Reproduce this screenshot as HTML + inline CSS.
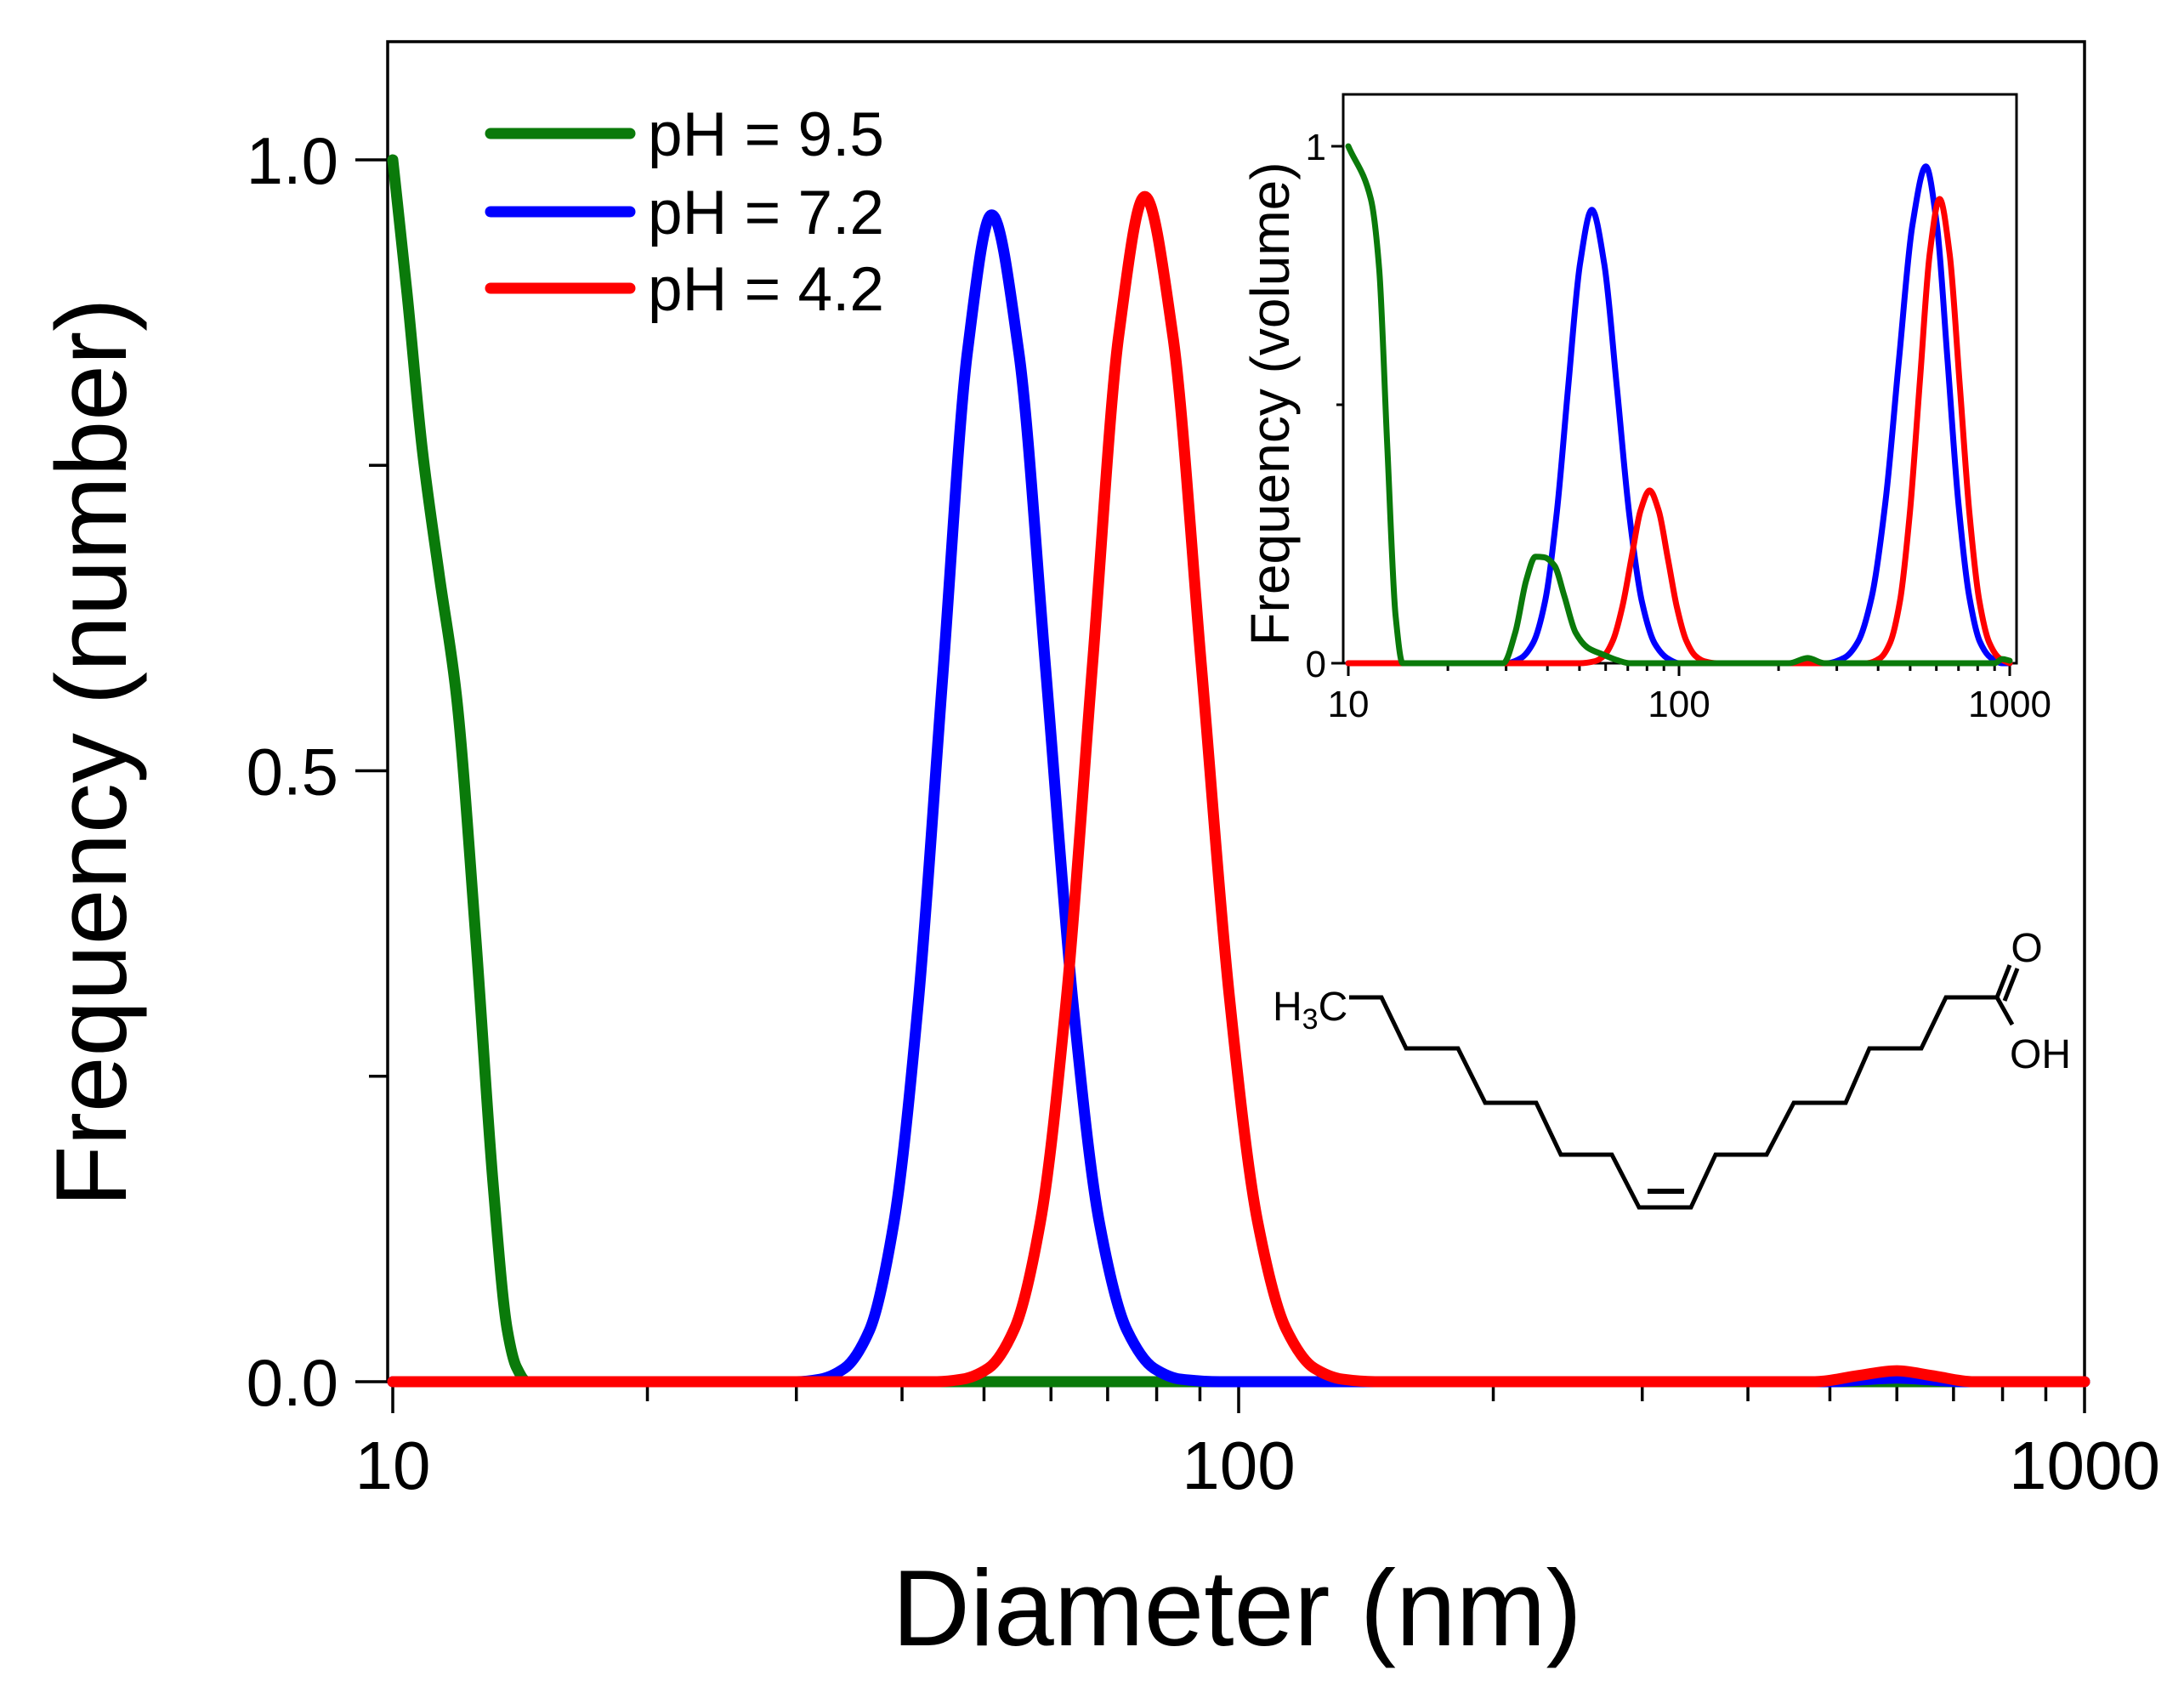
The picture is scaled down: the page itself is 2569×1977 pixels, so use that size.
<!DOCTYPE html>
<html><head><meta charset="utf-8"><style>
html,body{margin:0;padding:0;background:#fff;}
svg{display:block;font-family:"Liberation Sans",Arial,sans-serif;}
</style></head><body>
<svg id="chart" width="2569" height="1977" viewBox="0 0 2569 1977" xmlns="http://www.w3.org/2000/svg">
<rect x="0" y="0" width="2569" height="1977" fill="#fff"/>
<g id="main-axes"></g>
<g id="main-series"></g>
<g id="inset"></g>
<g id="legend">
  <line x1="577" y1="157" x2="741" y2="157" stroke="#0a7a0a" stroke-width="13" stroke-linecap="round"/>
  <line x1="577" y1="249" x2="741" y2="249" stroke="#0000ff" stroke-width="13" stroke-linecap="round"/>
  <line x1="577" y1="339" x2="741" y2="339" stroke="#ff0000" stroke-width="13" stroke-linecap="round"/>
  <text x="762" y="183" font-size="73">pH = 9.5</text>
  <text x="762" y="275" font-size="73">pH = 7.2</text>
  <text x="762" y="365" font-size="73">pH = 4.2</text>
</g>
<g id="molecule" fill="none" stroke="#000" stroke-width="5">
  <polyline points="1587,1173 1625,1173 1654,1233 1715,1233 1747,1297 1807,1297 1836,1358 1896,1358 1928,1420 1989,1420 2018,1358 2078,1358 2110,1297 2171,1297 2199,1233 2260,1233 2289,1173 2349,1173"/>
  <line x1="1938" y1="1401" x2="1981" y2="1401" stroke-width="6"/>
  <line x1="2349" y1="1173" x2="2364" y2="1135"/>
  <line x1="2358" y1="1177" x2="2373" y2="1139"/>
  <line x1="2349" y1="1173" x2="2367" y2="1205"/>
  <text x="1497" y="1200" font-size="48" fill="#000" stroke="none">H<tspan font-size="34" dy="10">3</tspan><tspan dy="-10">C</tspan></text>
  <text x="2384" y="1131" font-size="48" fill="#000" stroke="none" text-anchor="middle">O</text>
  <text x="2400" y="1256" font-size="48" fill="#000" stroke="none" text-anchor="middle">OH</text>
</g>
</svg>
<script>
// ---------- Main chart data (number distribution) ----------
const mainGreenD = [10,10.4,10.84,11.35,11.89,12.54,13.14,13.66,14.0,14.42,15,1000];
const mainGreenV = [1,0.89,0.762,0.66,0.562,0.362,0.162,0.042,0.012,0,0,0];
const mainBlueD = [10,30,32.0,34.2,36.6,39.1,41.8,44.7,47.8,51.05,54.96,59.2,63.7,68.5,73.8,79.4,85.5,95,500,560,600,640,720,1000];
const mainBlueV = [0,0,0.002,0.011,0.042,0.129,0.310,0.579,0.843,0.955,0.843,0.579,0.310,0.129,0.042,0.011,0.002,0,0,0.002,0.003,0.002,0,0];
const mainRedD = [10,44,47.1,50.6,54.3,58.3,62.6,67.2,72.15,77.45,83.6,90.3,97.5,105.3,113.8,122.9,132.7,145,480,540,600,660,740,1000];
const mainRedV = [0,0,0.002,0.011,0.043,0.131,0.315,0.588,0.856,0.97,0.856,0.588,0.315,0.131,0.043,0.011,0.002,0,0,0.005,0.009,0.005,0,0];
const mainXTickLabels = ["10","100","1000"];
const mainXTickValues = [10,100,1000];
const mainYTickLabels = ["0.0","0.5","1.0"];
const mainYTickValues = [0,0.5,1.0];
const mainYMinorTicks = [0.25,0.75];

// ---------- Inset data (volume distribution) ----------
const insetGreenD = [10,11.7,12.4,13.1,13.9,14.6,29.4,32,34.5,36.8,39,42,45,48.7,53,58.8,65,71,215,245,275,900,950,1000];
const insetGreenV = [1.0,0.898,0.763,0.428,0.092,0,0,0.06,0.16,0.206,0.205,0.189,0.13,0.059,0.03,0.017,0.006,0,0,0.01,0,0,0.008,0.005];
const insetBlueD = [10,30,33.3,36.2,39.3,42.6,46.2,50.2,54.5,59.4,64.9,70.8,77.3,84.3,92.0,100,280,317,348,383,421,462,508,558,602,649,699,754,812,875,950,1000];
const insetBlueV = [0,0,0.010,0.039,0.118,0.285,0.532,0.773,0.877,0.773,0.532,0.285,0.118,0.039,0.010,0,0,0.011,0.042,0.130,0.312,0.583,0.848,0.961,0.848,0.583,0.312,0.130,0.042,0.011,0,0];
const insetRedD = [10,50,55.7,59.4,63.2,67.4,71.8,76.5,81.5,86.8,92.5,98.5,105,111.8,119.1,130,370,406,435,466,499,535,573,614,658,705,755,809,867,929,1000];
const insetRedV = [0,0,0.004,0.015,0.045,0.109,0.203,0.295,0.334,0.295,0.203,0.109,0.045,0.015,0.004,0,0,0.010,0.040,0.121,0.292,0.545,0.792,0.898,0.792,0.545,0.292,0.121,0.040,0.010,0];
const insetXTickLabels = ["10","100","1000"];
const insetXTickValues = [10,100,1000];
const insetYTickLabels = ["0","1"];
const insetYTickValues = [0,1];

const NS = "http://www.w3.org/2000/svg";
function mk(tag, attrs, parent){const e=document.createElementNS(NS,tag);for(const k in attrs)e.setAttribute(k,attrs[k]);parent.appendChild(e);return e;}

// axis functions
const mxs = d => 462 + (Math.log10(d) - 1) * 995;
const mys = v => 1625 - v * 1437;
const ixs = d => 1586 + (Math.log10(d) - 1) * 389;
const iys = v => 780 - v * 608;

function monoPath(pts){
  const n=pts.length; if(n<2) return "";
  const dx=[],m=[],t=[];
  for(let i=0;i<n-1;i++){dx.push(pts[i+1][0]-pts[i][0]); m.push((pts[i+1][1]-pts[i][1])/(dx[i]||1e-9));}
  t[0]=m[0]; t[n-1]=m[n-2];
  for(let i=1;i<n-1;i++){ if(m[i-1]*m[i]<=0) t[i]=0; else { t[i]=3*(dx[i-1]+dx[i])/((2*dx[i]+dx[i-1])/m[i-1]+(dx[i]+2*dx[i-1])/m[i]); } }
  let s="M"+pts[0][0].toFixed(1)+","+pts[0][1].toFixed(1);
  for(let i=0;i<n-1;i++){
    const h=dx[i]/3;
    s+=" C"+(pts[i][0]+h).toFixed(1)+","+(pts[i][1]+t[i]*h).toFixed(1)+" "+(pts[i+1][0]-h).toFixed(1)+","+(pts[i+1][1]-t[i+1]*h).toFixed(1)+" "+pts[i+1][0].toFixed(1)+","+pts[i+1][1].toFixed(1);
  }
  return s;
}

// ---------- main axes ----------
const ax = document.getElementById('main-axes');
const frame = mk('rect',{x:456,y:49,width:1996,height:1576,fill:'none',stroke:'#000','stroke-width':3.5},ax);


mainYTickValues.forEach((v,i)=>{
  const t=mk('line',{x1:418,y1:mys(v),x2:456,y2:mys(v),stroke:'#000','stroke-width':3.5},ax);
  
  
  const l=mk('text',{x:398,y:mys(v)+28,'font-size':78,'text-anchor':'end'},ax);
  l.textContent=mainYTickLabels[i];
  
  
});
mainYMinorTicks.forEach(v=>{
  const t=mk('line',{x1:434,y1:mys(v),x2:456,y2:mys(v),stroke:'#000','stroke-width':3.5},ax);
  
  
});
for(let dec=10;dec<1000;dec*=10){
  for(let k=2;k<=9;k++){
    const t=mk('line',{x1:mxs(dec*k),y1:1625,x2:mxs(dec*k),y2:1648,stroke:'#000','stroke-width':3.5},ax);
    
    
  }
}
mainXTickValues.forEach((v,i)=>{
  const t=mk('line',{x1:mxs(v),y1:1625,x2:mxs(v),y2:1662,stroke:'#000','stroke-width':3.5},ax);
  
  
  const l=mk('text',{x:mxs(v),y:1751,'font-size':80,'text-anchor':'middle'},ax);
  l.textContent=mainXTickLabels[i];
  
  
});
const xt=mk('text',{x:1455,y:1935,'font-size':127,'text-anchor':'middle'},ax);
xt.textContent='Diameter (nm)';


const yt=mk('text',{x:0,y:0,'font-size':118,'text-anchor':'middle',transform:'translate(148,885) rotate(-90)'},ax);
yt.textContent='Frequency (number)';



// ---------- main series ----------
const ms=document.getElementById('main-series');
function drawSeries(parent,D,V,xf,yf,color,w,name){
  const pts=D.map((d,i)=>[xf(d),yf(V[i])]);
  const p=mk('path',{d:monoPath(pts),fill:'none',stroke:color,'stroke-width':w,'stroke-linejoin':'round','stroke-linecap':'round'},parent);
  
  
}
drawSeries(ms,mainGreenD,mainGreenV,mxs,mys,'#0a7a0a',13,'series-ph95');
drawSeries(ms,mainBlueD,mainBlueV,mxs,mys,'#0000ff',13,'series-ph72');
drawSeries(ms,mainRedD,mainRedV,mxs,mys,'#ff0000',13,'series-ph42');

// ---------- inset ----------
const ins=document.getElementById('inset');
const ifr=mk('rect',{x:1580,y:111,width:792,height:669,fill:'none',stroke:'#000','stroke-width':3},ins);


insetYTickValues.forEach((v,i)=>{
  const t=mk('line',{x1:1566,y1:iys(v),x2:1580,y2:iys(v),stroke:'#000','stroke-width':3},ins);
  
  
  const l=mk('text',{x:1560,y:iys(v)+16,'font-size':44,'text-anchor':'end'},ins);
  l.textContent=insetYTickLabels[i];
  
  
});
const imt=mk('line',{x1:1572,y1:iys(0.5),x2:1580,y2:iys(0.5),stroke:'#000','stroke-width':3},ins);


for(let dec=10;dec<1000;dec*=10){
  for(let k=2;k<=9;k++){
    const t=mk('line',{x1:ixs(dec*k),y1:780,x2:ixs(dec*k),y2:789,stroke:'#000','stroke-width':3},ins);
    
    
  }
}
insetXTickValues.forEach((v,i)=>{
  const t=mk('line',{x1:ixs(v),y1:780,x2:ixs(v),y2:795,stroke:'#000','stroke-width':3},ins);
  
  
  const l=mk('text',{x:ixs(v),y:843,'font-size':44,'text-anchor':'middle'},ins);
  l.textContent=insetXTickLabels[i];
  
  
});
const iyt=mk('text',{x:0,y:0,'font-size':64,'text-anchor':'middle',transform:'translate(1516,475) rotate(-90)'},ins);
iyt.textContent='Frequency (volume)';


drawSeries(ins,insetBlueD,insetBlueV,ixs,iys,'#0000ff',7,'inset-series-ph72');
drawSeries(ins,insetRedD,insetRedV,ixs,iys,'#ff0000',7,'inset-series-ph42');
drawSeries(ins,insetGreenD,insetGreenV,ixs,iys,'#0a7a0a',7,'inset-series-ph95');
</script>
</body></html>
